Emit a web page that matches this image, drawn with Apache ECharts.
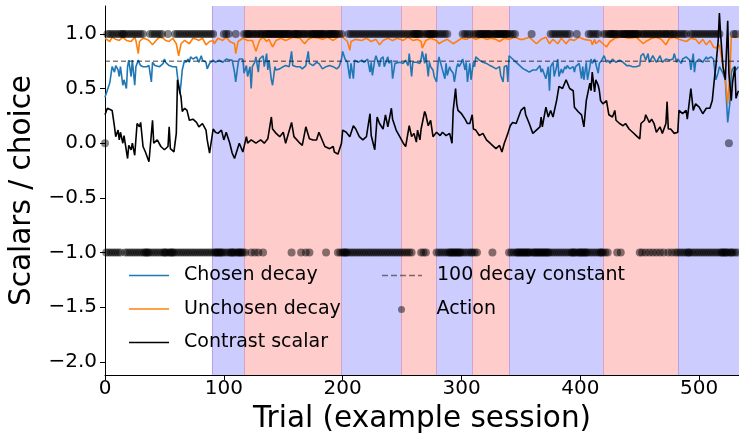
<!DOCTYPE html>
<html><head><meta charset="utf-8">
<script src="https://cdn.jsdelivr.net/npm/echarts@6/dist/echarts.min.js"></script>
<style>html,body{margin:0;padding:0;background:#fff}#c{width:739px;height:435px}</style>
</head><body><div id="c"></div>
<script>
const xTicks = [0, 100, 200, 300, 400, 500];
const yTicks = [-2, -1.5, -1, -0.5, 0, 0.5, 1];
const blueBlocks = [[90, 117], [199, 249], [279, 309], [340, 419], [482, 534]];
const redBlocks = [[117, 199], [249, 279], [309, 340], [419, 482]];
const decayConstant = 0.75;

const chosen = [[0,0.42],[4,0.55],[6,0.70],[8,0.65],[9,0.71],[11,0.67],[12,0.61],[13,0.70],[15,0.53],[16,0.58],[18,0.50],[19,0.70],[20,0.76],[22,0.61],[23,0.76],[25,0.53],[26,0.70],[28,0.76],[29,0.73],[30,0.71],[32,0.70],[35,0.70],[37,0.71],[39,0.56],[40,0.74],[42,0.71],[43,0.70],[46,0.70],[49,0.73],[50,0.77],[51,0.74],[54,0.71],[57,0.70],[60,0.70],[61,0.61],[63,0.45],[64,0.55],[65,0.67],[67,0.76],[68,0.74],[70,0.77],[71,0.74],[72,0.79],[74,0.77],[77,0.79],[79,0.74],[81,0.80],[82,0.76],[85,0.74],[86,0.68],[88,0.73],[91,0.76],[93,0.74],[96,0.76],[99,0.74],[102,0.77],[105,0.76],[107,0.76],[109,0.65],[110,0.56],[112,0.73],[113,0.77],[116,0.77],[117,0.64],[119,0.71],[120,0.61],[122,0.70],[123,0.50],[124,0.70],[126,0.74],[127,0.79],[129,0.65],[130,0.77],[133,0.80],[134,0.70],[136,0.82],[137,0.67],[138,0.76],[140,0.58],[141,0.53],[143,0.70],[144,0.67],[147,0.68],[150,0.70],[152,0.71],[155,0.70],[157,0.84],[158,0.71],[161,0.70],[164,0.70],[166,0.68],[169,0.71],[171,0.84],[172,0.73],[175,0.71],[178,0.74],[180,0.73],
[183,0.68],[186,0.70],[189,0.71],[192,0.70],[195,0.68],[197,0.70],[199,0.77],[200,0.84],[202,0.77],[204,0.74],[206,0.59],[207,0.73],[209,0.59],[210,0.76],[213,0.74],[216,0.76],[218,0.74],[221,0.77],[223,0.65],[224,0.74],[225,0.62],[227,0.76],[228,0.80],[231,0.70],[232,0.77],[234,0.79],[235,0.70],[237,0.76],[238,0.79],[239,0.73],[241,0.76],[242,0.59],[244,0.73],[245,0.74],[248,0.74],[251,0.73],[253,0.76],[255,0.71],[256,0.82],[258,0.61],[259,0.74],[262,0.74],[265,0.73],[266,0.77],[267,0.84],[269,0.73],[270,0.82],[272,0.61],[273,0.74],[274,0.70],[276,0.67],[277,0.61],[279,0.56],[280,0.70],[281,0.79],[283,0.71],[284,0.70],[286,0.59],[287,0.73],[288,0.62],[290,0.70],[291,0.67],[293,0.64],[294,0.56],[296,0.70],[297,0.73],[298,0.70],[300,0.74],[301,0.77],[303,0.67],[304,0.74],[305,0.56],[307,0.73],[308,0.58],[310,0.74],[311,0.70],[312,0.79],[315,0.76],[318,0.74],[321,0.73],[324,0.71],[326,0.70],[329,0.68],[332,0.70],[333,0.62],[335,0.56],[336,0.70],[338,0.71],[339,0.56],[340,0.80],[343,0.77],[346,0.74],[349,0.71],
[352,0.68],[354,0.67],[357,0.65],[360,0.67],[363,0.67],[366,0.71],[367,0.65],[368,0.68],[371,0.59],[373,0.70],[374,0.48],[375,0.70],[377,0.74],[378,0.61],[380,0.70],[381,0.77],[382,0.61],[384,0.68],[385,0.64],[387,0.70],[388,0.68],[389,0.71],[391,0.68],[394,0.70],[395,0.65],[396,0.70],[399,0.73],[401,0.59],[402,0.70],[403,0.58],[405,0.74],[406,0.58],[408,0.70],[409,0.77],[410,0.73],[412,0.77],[413,0.76],[415,0.64],[416,0.73],[418,0.76],[419,0.77],[420,0.80],[422,0.74],[423,0.76],[425,0.73],[427,0.77],[430,0.74],[433,0.76],[436,0.74],[439,0.71],[441,0.71],[444,0.70],[447,0.70],[450,0.71],[451,0.80],[453,0.82],[454,0.79],[455,0.76],[457,0.82],[458,0.74],[461,0.80],[464,0.74],[467,0.80],[469,0.74],[472,0.77],[475,0.76],[478,0.77],[479,0.82],[481,0.74],[482,0.77],[485,0.73],[486,0.77],[489,0.79],[492,0.76],[493,0.67],[495,0.82],[496,0.65],[497,0.74],[500,0.77],[503,0.74],[506,0.79],[507,0.77],[510,0.79],[512,0.77],[513,0.76],[514,0.58],[516,0.65],[517,0.70],[520,0.64],[522,0.58],[524,0.19],[526,0.39],[527,0.64],[528,0.68],[530,0.70],[531,0.67],[533,0.70]];

const unchosen = [[0,0.96],[4,0.93],[6,0.97],[9,0.95],[12,0.94],[15,0.97],[18,0.94],[22,0.93],[25,0.97],[26,0.94],[28,0.82],[29,0.93],[32,0.96],[35,0.95],[37,0.94],[40,0.90],[43,0.94],[46,0.97],[49,0.96],[51,0.94],[54,0.93],[57,0.96],[60,0.91],[62,0.80],[64,0.91],[67,0.94],[71,0.91],[74,0.96],[77,0.95],[79,0.94],[82,0.96],[85,0.90],[88,0.93],[91,0.94],[92,0.91],[95,0.96],[99,0.94],[102,0.97],[105,0.93],[109,0.91],[110,0.82],[112,0.93],[116,0.96],[120,0.94],[124,0.94],[127,0.84],[130,0.94],[133,0.97],[136,0.93],[138,0.95],[141,0.88],[144,0.94],[148,0.96],[152,0.94],[158,0.97],[164,0.96],[168,0.91],[171,0.95],[175,0.97],[180,0.96],
[183,0.95],[187,0.97],[192,0.94],[196,0.97],[199,0.99],[201,0.96],[204,0.93],[206,0.85],[207,0.93],[211,0.95],[216,0.94],[220,0.96],[224,0.93],[228,0.95],[231,0.90],[234,0.94],[238,0.96],[242,0.94],[246,0.96],[251,0.94],[255,0.97],[259,0.94],[263,0.95],[266,0.93],[267,0.87],[270,0.94],[274,0.96],[279,0.94],[281,0.91],[284,0.93],[288,0.95],[293,0.91],[296,0.93],[300,0.96],[304,0.95],[308,0.97],[312,0.95],[317,0.97],[321,0.95],[325,0.96],[329,0.95],[332,0.93],[336,0.96],[340,0.95],[345,0.97],[349,0.95],
[352,0.95],[357,0.97],[363,0.91],[367,0.95],[371,0.97],[374,0.91],[377,0.95],[381,0.91],[384,0.96],[388,0.91],[391,0.95],[395,0.94],[399,0.97],[403,0.95],[409,0.94],[410,0.90],[412,0.95],[413,0.91],[416,0.94],[419,0.91],[422,0.88],[425,0.93],[429,0.96],[433,0.97],[437,0.97],[441,0.96],[447,0.97],[453,0.91],[455,0.93],[460,0.96],[464,0.97],[468,0.95],[472,0.90],[475,0.96],[479,0.97],[483,0.95],[489,0.93],[493,0.96],[497,0.95],[500,0.91],[503,0.95],[506,0.90],[509,0.94],[512,0.88],[514,0.87],[517,0.90],[520,0.71],[522,0.58],[524,0.36],[526,0.67],[527,0.97],[528,0.96],[531,0.97],[533,0.97]];

const contrast = [[0,0.26],[2,0.32],[6,0.30],[8,0.15],[9,0.06],[11,0.12],[12,0.03],[13,0.10],[15,0.00],[16,0.07],[19,-0.14],[20,-0.02],[22,-0.06],[23,0.0],[25,-0.11],[27,0.18],[29,0.15],[30,0.19],[32,-0.03],[34,-0.08],[37,-0.17],[40,0.21],[41,0.0],[44,0.03],[47,-0.03],[50,-0.06],[53,-0.03],[54,0.15],[55,-0.05],[58,-0.08],[60,0.09],[61,0.58],[62,0.52],[64,0.42],[65,0.29],[67,0.32],[69,0.30],[71,0.21],[74,0.22],[77,0.19],[79,0.15],[82,0.18],[85,0.12],[86,0.03],[88,-0.09],[91,0.13],[93,0.10],[95,0.09],[98,0.12],[100,0.03],[102,0.10],[105,0.0],[107,-0.09],[109,-0.14],[110,-0.13],[113,0.0],[116,-0.08],[119,0.06],[120,0.0],[123,0.03],[127,0.0],[131,0.03],[134,0.0],[137,0.04],[140,0.24],[141,0.13],[144,0.09],[147,0.06],[150,0.10],[152,0.0],[157,0.19],[159,0.06],[164,0.0],[166,-0.02],[169,0.15],[172,0.04],[175,0.03],[178,0.03],[180,0.10],
[185,-0.03],[189,-0.05],[192,-0.03],[193,-0.08],[196,-0.10],[199,0.0],[200,0.12],[203,0.10],[206,0.06],[209,0.16],[211,0.13],[214,0.06],[217,0.03],[220,0.06],[223,0.27],[224,0.07],[227,-0.06],[229,0.24],[231,0.18],[234,0.13],[236,0.26],[238,0.15],[241,0.32],[242,0.22],[245,0.12],[248,0.06],[251,0.0],[253,-0.03],[256,0.16],[258,0.06],[260,0.09],[262,0.01],[263,0.12],[265,0.03],[266,0.13],[269,0.29],[270,0.26],[272,0.16],[274,0.21],[276,0.06],[279,0.10],[282,0.07],[284,0.10],[287,0.07],[290,0.09],[292,0.0],[293,0.30],[295,0.50],[296,0.36],[297,0.30],[300,0.27],[303,0.22],[305,0.18],[307,0.18],[309,0.26],[310,0.13],[312,0.12],[315,0.07],[318,0.09],[321,0.03],[324,0.0],[326,-0.02],[329,-0.05],[332,-0.02],[334,-0.08],[336,0.0],[338,0.06],[339,0.09],[341,0.16],[343,0.19],[346,0.18],
[347,0.21],[350,0.30],[353,0.33],[354,0.26],[357,0.18],[360,0.09],[363,0.12],[366,0.15],[367,0.24],[368,0.15],[371,0.33],[373,0.24],[375,0.30],[377,0.24],[380,0.39],[382,0.52],[385,0.50],[388,0.58],[391,0.50],[394,0.48],[395,0.33],[398,0.29],[401,0.26],[403,0.15],[405,0.39],[408,0.55],[409,0.48],[410,0.65],[412,0.47],[413,0.58],[415,0.53],[416,0.48],[417,0.39],[419,0.36],[422,0.39],[424,0.26],[427,0.24],[429,0.30],[430,0.21],[433,0.18],[436,0.16],[438,0.18],[441,0.13],[444,0.10],[447,0.07],[450,0.04],[451,0.18],[454,0.21],[455,0.26],[458,0.19],[460,0.22],[462,0.18],[464,0.10],[467,0.15],[469,0.09],[472,0.18],[473,0.38],[474,0.13],[476,0.13],[479,0.09],[482,0.10],[483,0.30],[486,0.27],[489,0.30],[490,0.22],[493,0.50],[495,0.30],[497,0.36],[500,0.33],[503,0.27],[506,0.32],[509,0.32],[511,0.39],[513,0.61],[514,0.70],[516,0.94],[517,1.19],[518,1.0],[520,0.70],[522,0.58],[524,1.12],[525,0.64],[527,0.39],[528,0.55],[530,0.70],[531,0.41],[533,0.48]];

// actions: [first trial, values for consecutive trials]
const actionSegments = [
 [0,[0]],
 [1,[-1,1,-1,1,-1,1,-1,1,-1,1,-1,1,-1,1]],
 [15,[1,1]],
 [17,[-1,1,-1,1,-1,1,-1,1,-1,1,-1,1,-1,1,-1,1]],
 [33,[-1,-1,-1,-1]],
 [37,[-1,1,-1,1,-1,1,-1,1,-1,1,-1,1]],
 [49,[-1,-1,-1,-1]],
 [53,[1]],
 [54,[-1,-1,-1,-1]],
 [58,[-1,1,-1,1,-1,1,-1,1,-1,1,-1,1,-1,1,-1,1,-1,1,-1,1,-1,1,-1,1,-1,1,-1,1,-1,1,-1,1,-1,1,-1]],
 [93,[-1,-1,-1,-1,-1,-1]],
 [99,[-1,1,-1,1,-1,1,-1]],
 [106,[-1,-1,-1,-1]],
 [110,[1]],
 [111,[-1,-1,-1,-1,-1]],
 [116,[-1,1,-1,1]],
 [120,[1,1,1]],
 [123,[-1,1,1,-1,1,1,-1,1,1,1,-1,1]],
 [135,[1,1,1,1,1,1,1,1,1,1,1,1,1,1,1,1,1,1,1,1,1,1]],
 [157,[-1]],
 [158,[1,1,1,1,1,1,1]],
 [165,[-1,1,1,1,-1,1,1,-1]],
 [173,[1,1,1,1,1,1,1,1,1,1,1,1,1]],
 [186,[-1]],
 [187,[1,1,1,1,1,1,1,1,1]],
 [196,[-1,1,-1,1,-1]],
 [201,[-1,-1,-1]],
 [204,[-1,1,-1,1,-1,1,-1,1,-1,1,-1,1,-1,1,-1,1,-1,1,-1,1,-1,1,-1,1,-1,1,-1,1,-1,1,-1,1,-1,1,-1,1,-1,1,-1,1,-1,1,-1,1,-1,1,-1,1,-1,1,-1,1,-1,1,-1,1]],
 [260,[1,1,1,1,1,1]],
 [266,[-1,1,-1,1,-1,1]],
 [272,[1,1,1,1,1,1,1]],
 [279,[-1,1,-1,1,-1,1,-1,1,-1,1]],
 [289,[-1,-1,-1,-1,-1,-1,-1,-1,-1,-1,-1]],
 [300,[-1,1,-1,1,-1,1,-1,1]],
 [308,[-1]],
 [309,[-1,1,-1,1,-1]],
 [314,[1,1,1,1,1,1,1,1,1,1,1,1]],
 [326,[-1]],
 [327,[1,1,1,1,1,1,1,1,1,1,1,1,1]],
 [340,[-1,1,-1,1,-1,1,-1]],
 [347,[-1,-1,-1,-1,-1,-1,-1,-1,-1,-1,-1,-1]],
 [359,[1]],
 [360,[-1,-1,-1,-1,-1,-1,-1,-1,-1,-1,-1,-1,-1,-1]],
 [374,[-1,1,-1,1,-1,1,-1,1,-1,1,-1,1,-1,1,-1,1,-1,1]],
 [392,[-1,-1,-1,-1,-1]],
 [397,[1]],
 [398,[-1,-1,-1,-1,-1,-1,-1,-1]],
 [406,[-1,1,-1,1,-1,1,-1,1,-1,1,-1]],
 [417,[-1,-1]],
 [419,[-1,1,-1,1,-1]],
 [424,[1,1,1,1,1,1,1]],
 [431,[-1,1,1,-1,1]],
 [436,[1,1,1,1,1,1,1,1,1,1,1,1,1,1]],
 [450,[-1,1,-1,1,1,-1,1,1,-1,1,1,-1,1,1,-1,1,1,-1,1,1,-1,1,1,1,-1,1,1,-1,1,1,-1,1]],
 [482,[-1,1,-1,1,-1,1,-1,1]],
 [490,[-1,-1]],
 [492,[-1,1,-1,1,-1,1,-1,1,-1,1,-1,1,-1,1,-1,1,-1,1,-1,1,-1,1,-1,1,-1,1]],
 [518,[-1,-1,-1,-1,-1,-1,-1]],
 [525,[0]],
 [526,[-1,-1]],
 [528,[-1,1,-1,1,-1]]
];

const actions = [];
actionSegments.forEach(([start, vals]) => vals.forEach((v, i) => actions.push([start + i, v])));

const FONT = 'DejaVu Sans';
const X_MAX = 533.5;
const markAreaData = [
  ...blueBlocks.map(b => [{xAxis: b[0], itemStyle: {color: 'rgba(0,0,255,0.2)'}}, {xAxis: Math.min(b[1], X_MAX)}]),
  ...redBlocks.map(b => [{xAxis: b[0], itemStyle: {color: 'rgba(255,0,0,0.2)'}}, {xAxis: b[1]}])
];
const boundaries = [...new Set([...blueBlocks.flat(), ...redBlocks.flat()])].filter(v => v < X_MAX);

const dashIcon = 'path://M0,0h6v1.5h-6zM9,0h6v1.5h-6zM18,0h6v1.5h-6zM27,0h6v1.5h-6zM36,0h4v1.5h-4z';
const chart = echarts.init(document.getElementById('c'), null, {renderer: 'canvas'});
const legendText = {fontSize: 19, fontFamily: FONT, color: '#000', padding: [0, 0, 0, 10]};
chart.setOption({
  animation: false,
  backgroundColor: '#fff',
  grid: {left: 105, right: 0, top: 6, bottom: 60, containLabel: false, outerBoundsMode: 'none'},
  legend: [
    {data: [{name: 'Chosen decay', icon: 'rect'}, {name: 'Unchosen decay', icon: 'rect'}, {name: 'Contrast scalar', icon: 'rect'}],
     orient: 'vertical', left: 129, top: 266, padding: 0, itemWidth: 40, itemHeight: 1.6, itemGap: 14.5, textStyle: legendText},
    {data: [{name: '100 decay constant', icon: dashIcon}],
     orient: 'vertical', left: 382, top: 266, padding: 0, itemWidth: 40, itemHeight: 1.5, itemGap: 14.5, textStyle: legendText},
    {data: [{name: 'Action', icon: 'circle'}],
     orient: 'vertical', left: 398, top: 300, padding: 0, itemWidth: 40, itemHeight: 7, itemGap: 14.5, textStyle: legendText}
  ],
  xAxis: {
    type: 'value', min: 0, max: X_MAX,
    name: 'Trial (example session)', nameLocation: 'middle', nameGap: 17,
    nameTextStyle: {fontSize: 29.5, fontFamily: FONT, color: '#000'},
    axisLine: {show: true, onZero: false, lineStyle: {color: '#000', width: 1}},
    axisTick: {show: true, length: 5, inside: false, customValues: xTicks, lineStyle: {color: '#000'}},
    axisLabel: {customValues: xTicks, fontSize: 20, fontFamily: FONT, color: '#000', margin: 4},
    splitLine: {show: false}
  },
  yAxis: {
    type: 'value', min: -2.12, max: 1.255,
    name: 'Scalars / choice', nameLocation: 'middle', nameGap: 57,
    nameTextStyle: {fontSize: 29.5, fontFamily: FONT, color: '#000'},
    axisLine: {show: true, onZero: false, lineStyle: {color: '#000', width: 1}},
    axisTick: {show: true, length: 5, customValues: yTicks, lineStyle: {color: '#000'}},
    axisLabel: {customValues: yTicks, fontSize: 20, fontFamily: FONT, color: '#000', margin: 8,
      formatter: v => (v < 0 ? '\u2212' : '') + Math.abs(v).toFixed(1)},
    splitLine: {show: false}
  },
  series: [
    {name: 'Chosen decay', type: 'line', data: chosen, symbol: 'none', z: 3,
     lineStyle: {color: '#1f77b4', width: 1.6}, itemStyle: {color: '#1f77b4'},
     markArea: {silent: true, z: 1, data: markAreaData},
     markLine: {silent: true, symbol: 'none', label: {show: false}, z: 1,
       lineStyle: {color: 'rgba(150,60,170,0.3)', width: 1, type: 'solid'},
       data: boundaries.map(v => ({xAxis: v}))}},
    {name: 'Unchosen decay', type: 'line', data: unchosen, symbol: 'none', z: 3,
     lineStyle: {color: '#ff7f0e', width: 1.6}, itemStyle: {color: '#ff7f0e'}},
    {name: 'Contrast scalar', type: 'line', data: contrast, symbol: 'none', z: 3,
     lineStyle: {color: '#000', width: 1.6}, itemStyle: {color: '#000'}},
    {name: '100 decay constant', type: 'line', data: [[0, decayConstant], [X_MAX, decayConstant]], symbol: 'none', z: 3,
     lineStyle: {color: 'rgba(0,0,0,0.5)', width: 1.4, type: [5, 3]}, itemStyle: {color: 'rgba(0,0,0,0.5)'}},
    {name: 'Action', type: 'scatter', data: actions, symbolSize: 8, z: 4,
     itemStyle: {color: 'rgba(0,0,0,0.6)'}}
  ]
});
</script></body></html>
